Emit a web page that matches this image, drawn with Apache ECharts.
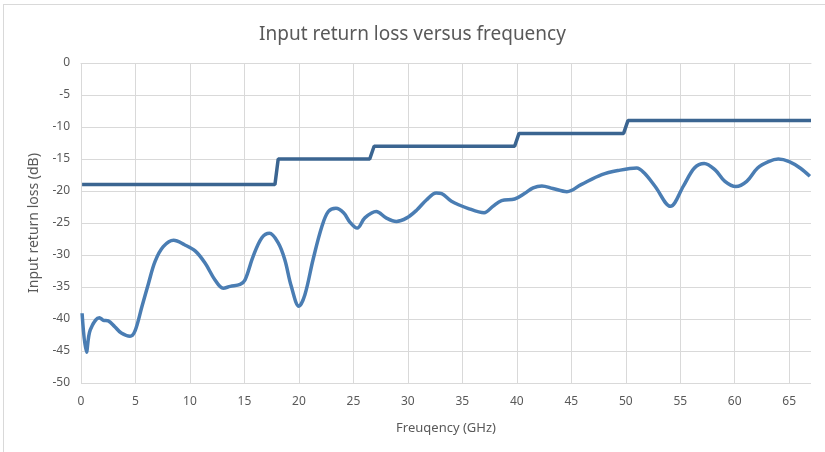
<!DOCTYPE html>
<html>
<head>
<meta charset="utf-8">
<script src="https://cdn.jsdelivr.net/npm/echarts@6/dist/echarts.min.js"></script>
<style>
  html, body { margin: 0; padding: 0; background: #fff; }
  #chart { width: 825px; height: 452px; }
</style>
</head>
<body>
<div id="chart"></div>
<script>
// measured return loss, [GHz, dB]
const returnLoss = [
  [0.1, -39.1], [0.5, -45.2], [0.85, -41.7], [1.7, -39.8], [2.05, -40.2], [2.5, -40.3],
  [3.1, -41.2], [3.7, -42.2], [4.5, -42.7], [4.95, -41.9], [5.6, -38.0], [6.2, -34.4],
  [6.8, -31.0], [7.55, -28.7], [8.5, -27.7], [9.5, -28.4], [10.5, -29.4], [11.4, -31.3],
  [12.3, -33.9], [13.05, -35.2], [13.7, -34.9], [14.6, -34.6], [15.05, -33.9], [15.8, -30.2],
  [16.6, -27.3], [17.3, -26.6], [18.1, -28.1], [18.7, -30.7], [19.3, -34.9], [20.0, -38.0],
  [20.55, -36.2], [21.3, -30.7], [22.1, -25.6], [22.7, -23.2], [23.4, -22.7], [24.1, -23.4],
  [24.7, -24.9], [25.35, -25.8], [26.05, -24.2], [27.1, -23.2], [28.0, -24.2], [28.95, -24.75],
  [29.9, -24.2], [30.8, -23.0], [31.7, -21.4], [32.6, -20.3], [33.1, -20.4], [34.0, -21.6],
  [35.5, -22.7], [37.0, -23.4], [37.8, -22.4], [38.6, -21.5], [39.8, -21.25], [40.7, -20.4],
  [41.5, -19.5], [42.3, -19.2], [43.3, -19.6], [44.6, -20.1], [45.9, -19.0], [47.8, -17.45],
  [49.3, -16.8], [51.0, -16.4], [51.7, -17.2], [52.7, -19.3], [54.1, -22.4], [55.3, -19.2],
  [56.3, -16.4], [57.2, -15.7], [58.2, -16.7], [59.1, -18.5], [60.1, -19.3], [61.1, -18.5],
  [62.1, -16.4], [63.1, -15.4], [64.0, -15.0], [65.0, -15.4], [66.0, -16.4], [66.9, -17.7]
];

// specification limit, [GHz, dB]
const specLimit = [
  [0.1, -19], [17.8, -19], [18.1, -15], [26.5, -15], [26.9, -13],
  [39.8, -13], [40.2, -11], [49.8, -11], [50.2, -9], [67, -9]
];

const textColor = '#595959';
const font = 'Noto Sans';

const chart = echarts.init(document.getElementById('chart'));
chart.setOption({
  animation: false,
  title: {
    text: 'Input return loss versus frequency',
    left: 'center',
    top: 20,
    textStyle: { fontFamily: font, fontSize: 19, fontWeight: 'normal', color: textColor }
  },
  graphic: [
    { type: 'line', shape: { x1: 3, y1: 4.5, x2: 825, y2: 4.5 }, style: { stroke: '#d9d9d9', lineWidth: 1 } },
    { type: 'line', shape: { x1: 3.5, y1: 4, x2: 3.5, y2: 452 }, style: { stroke: '#d9d9d9', lineWidth: 1 } }
  ],
  grid: { left: 81, top: 63, right: 14, bottom: 69 },
  xAxis: {
    type: 'value',
    min: 0,
    max: 67,
    interval: 5,
    name: 'Freuqency (GHz)',
    nameLocation: 'middle',
    nameGap: 39,
    nameTextStyle: { fontFamily: font, fontSize: 13, color: textColor },
    axisLine: { show: true, lineStyle: { color: '#d9d9d9' } },
    axisTick: { show: false },
    axisLabel: { fontFamily: font, fontSize: 12, color: textColor, margin: 13, showMaxLabel: false },
    splitLine: { show: true, showMaxLine: false, lineStyle: { color: '#d9d9d9', width: 1 } }
  },
  yAxis: {
    type: 'value',
    min: -50,
    max: 0,
    interval: 5,
    name: 'Input return loss (dB)',
    nameLocation: 'middle',
    nameGap: 39,
    nameTextStyle: { fontFamily: font, fontSize: 14, color: textColor },
    axisLine: { show: false },
    axisTick: { show: false },
    axisLabel: { fontFamily: font, fontSize: 12, color: textColor, margin: 11 },
    splitLine: { show: true, lineStyle: { color: '#d9d9d9', width: 1 } }
  },
  series: [
    {
      name: 'Limit',
      type: 'line',
      data: specLimit,
      showSymbol: false,
      lineStyle: { color: '#3b6591', width: 3.5 },
      z: 3
    },
    {
      name: 'Return loss',
      type: 'line',
      data: returnLoss,
      smooth: 0.35,
      showSymbol: false,
      lineStyle: { color: '#4a7db3', width: 3.5 },
      z: 4
    }
  ]
});
</script>
</body>
</html>
